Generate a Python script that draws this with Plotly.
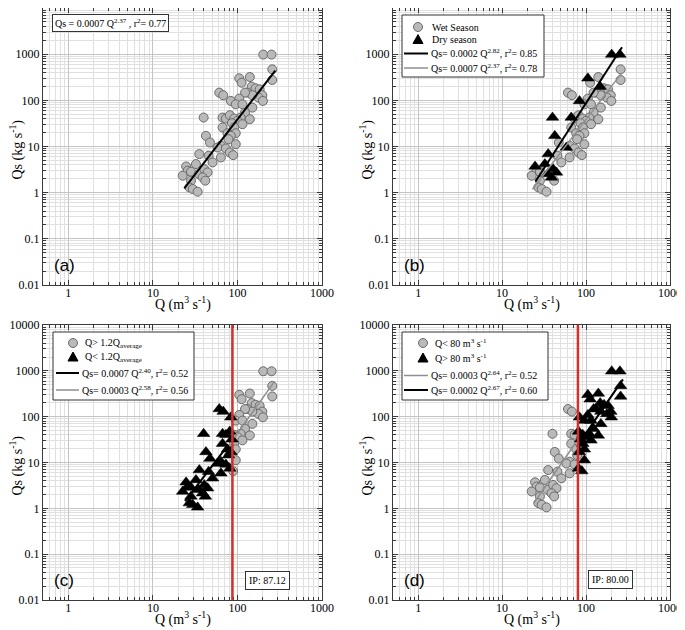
import plotly.graph_objects as go

# ---------------- data ----------------
Q = [202, 253, 258, 258, 105, 112, 140, 60.9, 67.8, 147.5,
     131, 164, 183, 197, 177, 200, 150, 123, 105, 83.5,
     95.5, 114.5, 150, 123, 140, 109, 39.8, 66.6, 73, 81.2,
     91.4, 100, 86.0, 114.5, 66.6, 91.4, 76.3, 95.5, 83.5, 42.4,
     47.3, 95.5, 78.3, 63.7, 58.2, 73, 81.2, 89, 35.4, 45.6,
     63.7, 50.8, 32.3, 24.7, 25.8, 22.5, 28.2, 34.8, 40.5, 44.4,
     38.7, 41.7, 28.2, 27.0, 29.6, 33.8]
QS = [980, 980, 469, 276, 300, 241, 320, 147, 129, 198,
      147, 182, 173, 129, 115, 97, 129, 147, 109, 97,
      82, 82, 69.6, 54.3, 39, 42.4, 42.4, 42.4, 40.3, 47.6,
      40.3, 35.9, 32, 30.4, 25.8, 25.8, 19.4, 19.4, 17.0, 17.0,
      12.2, 11.2, 14.4, 10.4, 9.5, 9.06, 7.43, 6.5, 6.84, 6.3,
      5.8, 4.52, 4.16, 3.7, 2.99, 2.33, 2.84, 2.53, 3.24, 2.75,
      2.14, 1.82, 1.82, 1.30, 1.2, 1.05]
SEASON = ["D", "D", "W", "W", "D", "W", "W", "W", "W", "D",
          "W", "W", "W", "W", "W", "W", "W", "W", "W", "D",
          "W", "W", "W", "W", "W", "W", "D", "D", "W", "W",
          "W", "W", "W", "W", "W", "W", "W", "W", "W", "D",
          "W", "W", "W", "W", "D", "W", "W", "W", "D", "W",
          "W", "W", "D", "D", "W", "W", "W", "D", "D", "D",
          "D", "W", "W", "W", "W", "W"]

IP_C = 87.12   # 1.2 Q_average
IP_D = 80.00

# fits: coefficient, exponent, r2, Q-range of drawn line
FIT_A = (0.0007, 2.37, 0.77, 23.5, 280)
FIT_B_DRY = (0.0002, 2.82, 0.85, 25, 268)
FIT_B_WET = (0.0007, 2.37, 0.78, 23, 268)
FIT_C_LOW = (0.0007, 2.40, 0.52, 24, 78)
FIT_C_HIGH = (0.0003, 2.58, 0.56, 92, 272)
FIT_D_LOW = (0.0003, 2.64, 0.52, 24, 76)
FIT_D_HIGH = (0.0002, 2.67, 0.60, 86, 275)

X_TICKS = [1, 10, 100, 1000]
Y_TICKS = [0.01, 0.1, 1, 10, 100, 1000, 10000]

# ---------------- helpers ----------------
OFF = 8                      # default page margin of the html body
W, H = 685 - OFF, 630 - OFF  # figure fits the window after that margin
SERIF = "Liberation Serif, Times New Roman, serif"
SANS = "Liberation Sans, Arial, sans-serif"
GRAY_FILL = "#b9b9b9"
GRAY_EDGE = "#6a6a6a"
GRAY_LINE = "#8f8f8f"
RED = "#d7302b"


def fx(px):
    return (px - OFF) / W


def fy(py):
    return (H - (py - OFF)) / H


def clamp(v):
    return min(1.0, max(0.0, v))


def fit_line(fit):
    a, b, _, q0, q1 = fit
    xs = [q0, q1]
    return xs, [a * q ** b for q in xs]


def fit_label(fit, spaced=False):
    a, b, r2 = fit[0], fit[1], fit[2]
    eq = "Qs = " if spaced else "Qs= "
    return f"{eq}{a:g} Q<sup>{b:.2f}</sup>, r<sup>2</sup>= {r2:.2f}"


def circles(xs, ys, ax):
    return go.Scatter(x=xs, y=ys, mode="markers", showlegend=False,
                      xaxis="x" + ax, yaxis="y" + ax,
                      marker=dict(symbol="circle", size=9, color=GRAY_FILL,
                                  line=dict(color=GRAY_EDGE, width=1)))


def triangles(xs, ys, ax):
    return go.Scatter(x=xs, y=ys, mode="markers", showlegend=False,
                      xaxis="x" + ax, yaxis="y" + ax,
                      marker=dict(symbol="triangle-up", size=11, color="black",
                                  line=dict(color="black", width=0.5)))


def line(fit, color, width, ax):
    xs, ys = fit_line(fit)
    return go.Scatter(x=xs, y=ys, mode="lines", showlegend=False,
                      xaxis="x" + ax, yaxis="y" + ax,
                      line=dict(color=color, width=width))


def sel(cond):
    return ([q for q, s, k in zip(Q, QS, SEASON) if cond(q, k)],
            [s for q, s, k in zip(Q, QS, SEASON) if cond(q, k)])


traces = []
# (a)
traces.append(circles(Q, QS, ""))
traces.append(line(FIT_A, "black", 2, ""))

# (b)
wq, ws = sel(lambda q, k: k == "W")
dq, ds = sel(lambda q, k: k == "D")
traces.append(circles(wq, ws, "2"))
traces.append(triangles(dq, ds, "2"))
traces.append(line(FIT_B_WET, GRAY_LINE, 1.5, "2"))
traces.append(line(FIT_B_DRY, "black", 2, "2"))

# (c)
hq, hs = sel(lambda q, k: q > IP_C)
lq, ls = sel(lambda q, k: q <= IP_C)
traces.append(circles(hq, hs, "3"))
traces.append(triangles(lq, ls, "3"))
traces.append(line(FIT_C_LOW, "black", 2, "3"))
traces.append(line(FIT_C_HIGH, GRAY_LINE, 1.5, "3"))

# (d)
lq, ls = sel(lambda q, k: q < IP_D)
hq, hs = sel(lambda q, k: q >= IP_D)
traces.append(circles(lq, ls, "4"))
traces.append(triangles(hq, hs, "4"))
traces.append(line(FIT_D_LOW, GRAY_LINE, 1.5, "4"))
traces.append(line(FIT_D_HIGH, "black", 2, "4"))

fig = go.Figure(data=traces)

panels = {
    "": ((43, 322), (8, 285)),
    "2": ((393, 670), (8, 285)),
    "3": ((43, 322), (325, 600)),
    "4": ((393, 670), (325, 600)),
}

axis_common = dict(type="log", showline=True, linecolor="#3a3a3a", linewidth=1,
                   mirror="ticks", ticks="inside", ticklen=5, tickcolor="#3a3a3a",
                   showgrid=True, gridcolor="#c4c4c4", gridwidth=1, zeroline=False,
                   automargin=False,
                   tickfont=dict(family=SERIF, size=12, color="black"),
                   tickmode="array",
                   minor=dict(ticks="inside", ticklen=3, tickcolor="#3a3a3a",
                              showgrid=True, gridcolor="#e0e0e0", dtick="D1"))

layout = dict(width=W, height=H, margin=dict(l=0, r=0, t=0, b=0),
              paper_bgcolor="white", plot_bgcolor="white", showlegend=False)
for k, ((x0, x1), (y0, y1)) in panels.items():
    xa = dict(axis_common, domain=[clamp(fx(x0)), clamp(fx(x1))], range=[-0.3, 3.0],
              anchor="y" + k, tickvals=X_TICKS,
              ticktext=[f"{v:g}" for v in X_TICKS], ticklabelstandoff=-3)
    ya = dict(axis_common, domain=[clamp(fy(y1)), clamp(fy(y0))], range=[-2, 4],
              anchor="x" + k, tickvals=Y_TICKS,
              ticktext=[f"{v:g}" for v in Y_TICKS])
    layout["xaxis" + k] = xa
    layout["yaxis" + k] = ya

annotations = []
shapes = []
TXT = dict(family=SERIF, size=10, color="black")

# axis titles
for k, ((x0, x1), (y0, y1)) in panels.items():
    annotations.append(dict(text="Q (m<sup>3</sup> s<sup>-1</sup>)", xref="paper", yref="paper",
                            x=fx((x0 + x1) / 2), y=fy(y1 + 18), showarrow=False,
                            xanchor="center", yanchor="middle",
                            font=dict(family=SERIF, size=14, color="black")))
    annotations.append(dict(text="Qs (kg s<sup>-1</sup>)", xref="paper", yref="paper",
                            x=fx(x0 - 26), y=fy((y0 + y1) / 2 + 3), showarrow=False,
                            textangle=-90, xanchor="center", yanchor="middle",
                            font=dict(family=SERIF, size=14, color="black")))
# panel labels
for lab, k in zip(["(a)", "(b)", "(c)", "(d)"], ["", "2", "3", "4"]):
    (x0, x1), (y0, y1) = panels[k]
    annotations.append(dict(text=lab, xref="paper", yref="paper",
                            x=fx(x0 + 9), y=fy(y1 - 20), showarrow=False,
                            xanchor="left", yanchor="middle",
                            font=dict(family=SANS, size=17, color="black")))
# formula box (a)
annotations.append(dict(text=fit_label(FIT_A, spaced=True).replace("</sup>,", "</sup> ,"),
                        xref="paper", yref="paper", x=fx(52), y=fy(14),
                        xanchor="left", yanchor="top", showarrow=False,
                        bordercolor="#333", borderwidth=1, borderpad=2, bgcolor="white",
                        font=TXT))
# IP boxes
for ip, cx, cy in [(IP_C, 267, 580), (IP_D, 610, 579)]:
    annotations.append(dict(text=f"IP: {ip:.2f}", xref="paper", yref="paper",
                            x=fx(cx), y=fy(cy), showarrow=False, xanchor="center",
                            yanchor="middle", bordercolor="#333", borderwidth=1,
                            borderpad=3, bgcolor="white", font=TXT))

# red IP lines
shapes.append(dict(type="line", xref="x3", yref="y3 domain", x0=IP_C, x1=IP_C,
                   y0=0, y1=1, line=dict(color=RED, width=2.5)))
shapes.append(dict(type="line", xref="x4", yref="y4 domain", x0=IP_D, x1=IP_D,
                   y0=0, y1=1, line=dict(color=RED, width=2.5)))


# ---------------- hand-drawn legends (compact, like the reference) ----------------
def legend_box(left, top, width, height, rows, sym_x, text_x, line_x0, line_x1, items):
    shapes.append(dict(type="rect", xref="paper", yref="paper",
                       x0=fx(left), x1=fx(left + width), y0=fy(top + height), y1=fy(top),
                       line=dict(color="#333", width=1), fillcolor="white", layer="above"))
    for (kind, label), dy in zip(items, rows):
        yc = top + dy
        if kind == "circle":
            shapes.append(dict(type="circle", xref="paper", yref="paper",
                               x0=fx(sym_x - 4.5), x1=fx(sym_x + 4.5),
                               y0=fy(yc + 4.5), y1=fy(yc - 4.5),
                               fillcolor=GRAY_FILL, line=dict(color=GRAY_EDGE, width=1),
                               layer="above"))
        elif kind == "triangle":
            path = (f"M {fx(sym_x - 5)} {fy(yc + 4)} L {fx(sym_x + 5)} {fy(yc + 4)} "
                    f"L {fx(sym_x)} {fy(yc - 5)} Z")
            shapes.append(dict(type="path", xref="paper", yref="paper", path=path,
                               fillcolor="black", line=dict(color="black", width=1),
                               layer="above"))
        else:
            color, wd = ("black", 2) if kind == "black" else (GRAY_LINE, 1.5)
            shapes.append(dict(type="line", xref="paper", yref="paper",
                               x0=fx(line_x0), x1=fx(line_x1), y0=fy(yc), y1=fy(yc),
                               line=dict(color=color, width=wd), layer="above"))
        tx = text_x if kind in ("circle", "triangle") else line_x1 + 1
        annotations.append(dict(text=label, xref="paper", yref="paper",
                                x=fx(tx), y=fy(yc), xanchor="left", yanchor="middle",
                                showarrow=False, font=TXT))


legend_box(402, 15, 142, 62, [12, 24.5, 38.5, 53], 418, 430, 404, 428,
           [("circle", "Wet Season"), ("triangle", "Dry season"),
            ("black", fit_label(FIT_B_DRY)), ("gray", fit_label(FIT_B_WET))])
legend_box(53, 332, 141, 68, [11, 25, 41, 58], 73, 83, 56, 79,
           [("circle", "Q> 1.2Q<sub>average</sub>"),
            ("triangle", "Q< 1.2Q<sub>average</sub>"),
            ("black", fit_label(FIT_C_LOW)), ("gray", fit_label(FIT_C_HIGH))])
legend_box(402, 332, 146, 68, [11, 26, 43.5, 58], 423, 433, 404, 428,
           [("circle", "Q< 80 m<sup>3</sup> s<sup>-1</sup>"),
            ("triangle", "Q> 80 m<sup>3</sup> s<sup>-1</sup>"),
            ("gray", fit_label(FIT_D_LOW)), ("black", fit_label(FIT_D_HIGH))])

layout["annotations"] = annotations
layout["shapes"] = shapes

fig.update_layout(layout)
fig.write_html("out.html")
